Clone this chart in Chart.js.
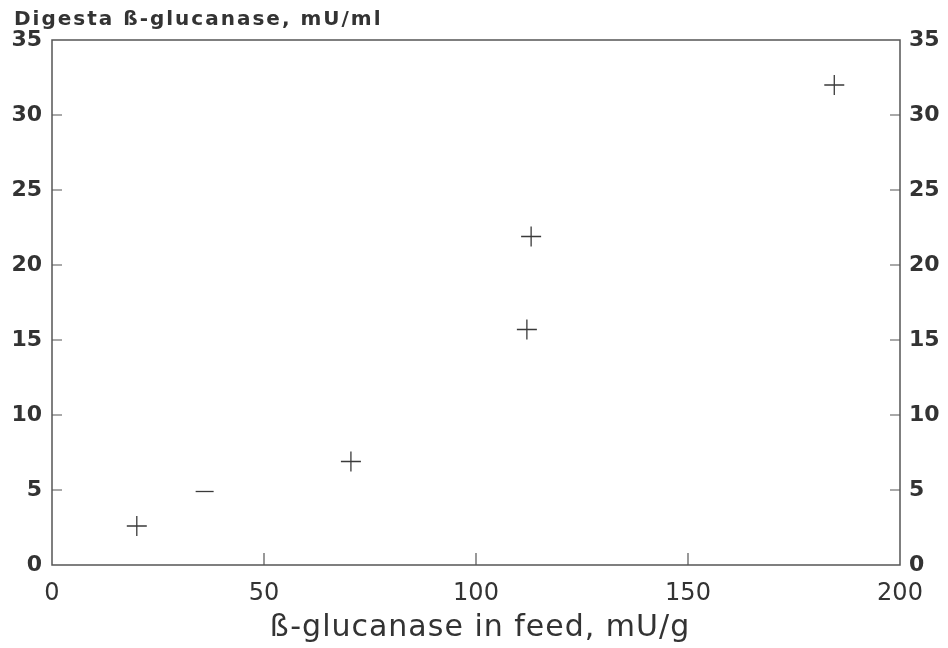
<!DOCTYPE html>
<html>
<head>
<meta charset="utf-8">
<script src="https://cdn.jsdelivr.net/npm/chart.js@4"></script>
<style>
  html, body { margin: 0; padding: 0; background: #fff; }
  #wrap { width: 948px; height: 648px; }
</style>
</head>
<body>
<div id="wrap"><canvas id="chart" width="948" height="648"></canvas></div>
<script>
// feed beta-glucanase (mU/g) vs digesta beta-glucanase (mU/ml)
const feedCross = [20, 70.5, 113, 112, 184.5];
const digestaCross = [2.6, 6.9, 21.9, 15.7, 32.0];
const feedDash = [36];
const digestaDash = [4.9];
const xTicks = [0, 50, 100, 150, 200];
const yTicks = [0, 5, 10, 15, 20, 25, 30, 35];
const yTitle = 'Digesta \u00DF-glucanase, mU/ml';
const xTitle = '\u00DF-glucanase in feed, mU/g';

const ink = '#3a3a3a';
const fontFam = '"DejaVu Sans", Arial, sans-serif';

// frame, inward tick marks and the two titles (spaced lettering)
const frame = {
    id: 'frame',
    afterDraw(chart) {
        const { ctx, chartArea: a, scales } = chart;
        ctx.save();
        ctx.strokeStyle = '#555';
        ctx.lineWidth = 1.5;
        ctx.strokeRect(a.left, a.top, a.right - a.left, a.bottom - a.top);
        ctx.lineWidth = 1.2;
        ctx.beginPath();
        yTicks.slice(1, -1).forEach(v => {
            const y = scales.y.getPixelForValue(v);
            ctx.moveTo(a.left, y); ctx.lineTo(a.left + 10, y);
            ctx.moveTo(a.right, y); ctx.lineTo(a.right - 10, y);
        });
        xTicks.slice(1, -1).forEach(v => {
            const x = scales.x.getPixelForValue(v);
            ctx.moveTo(x, a.bottom); ctx.lineTo(x, a.bottom - 12);
        });
        ctx.stroke();

        ctx.fillStyle = '#333';
        ctx.textBaseline = 'alphabetic';
        ctx.letterSpacing = '2px';
        ctx.font = 'bold 20px ' + fontFam;
        ctx.textAlign = 'left';
        ctx.fillText(yTitle, 14, 25);
        ctx.letterSpacing = '1px';
        ctx.font = '30px ' + fontFam;
        ctx.textAlign = 'center';
        ctx.fillText(xTitle, 480, 636);
        ctx.restore();
    }
};

const toPts = (xs, ys) => xs.map((x, i) => ({ x: x, y: ys[i] }));

new Chart(document.getElementById('chart'), {
    type: 'scatter',
    data: {
        datasets: [
            {
                data: toPts(feedCross, digestaCross),
                pointStyle: 'cross',
                pointRadius: 10,
                pointBorderWidth: 1.3,
                borderColor: ink,
                backgroundColor: ink
            },
            {
                data: toPts(feedDash, digestaDash),
                pointStyle: 'line',
                pointRadius: 9,
                pointBorderWidth: 1.3,
                borderColor: ink,
                backgroundColor: ink
            }
        ]
    },
    options: {
        responsive: false,
        animation: false,
        layout: { padding: { top: 40, left: 0, right: 0, bottom: 0 } },
        plugins: { legend: { display: false }, tooltip: { enabled: false } },
        scales: {
            x: {
                type: 'linear', min: 0, max: 200,
                afterBuildTicks: s => { s.ticks = xTicks.map(v => ({ value: v })); },
                afterFit: s => { s.height = 83; },
                grid: { display: false, drawTicks: false },
                border: { display: false },
                ticks: { color: '#333', padding: 14, font: { family: fontFam, size: 24 } }
            },
            y: {
                type: 'linear', position: 'left', min: 0, max: 35,
                afterBuildTicks: s => { s.ticks = yTicks.map(v => ({ value: v })); },
                afterFit: s => { s.width = 52; },
                grid: { display: false, drawTicks: false },
                border: { display: false },
                ticks: { color: '#333', padding: 10, font: { family: fontFam, size: 22, weight: 'bold' } }
            },
            y2: {
                type: 'linear', position: 'right', min: 0, max: 35,
                afterBuildTicks: s => { s.ticks = yTicks.map(v => ({ value: v })); },
                afterFit: s => { s.width = 48; },
                grid: { display: false, drawTicks: false },
                border: { display: false },
                ticks: { color: '#333', padding: 9, font: { family: fontFam, size: 22, weight: 'bold' } }
            }
        }
    },
    plugins: [frame]
});
</script>
</body>
</html>
